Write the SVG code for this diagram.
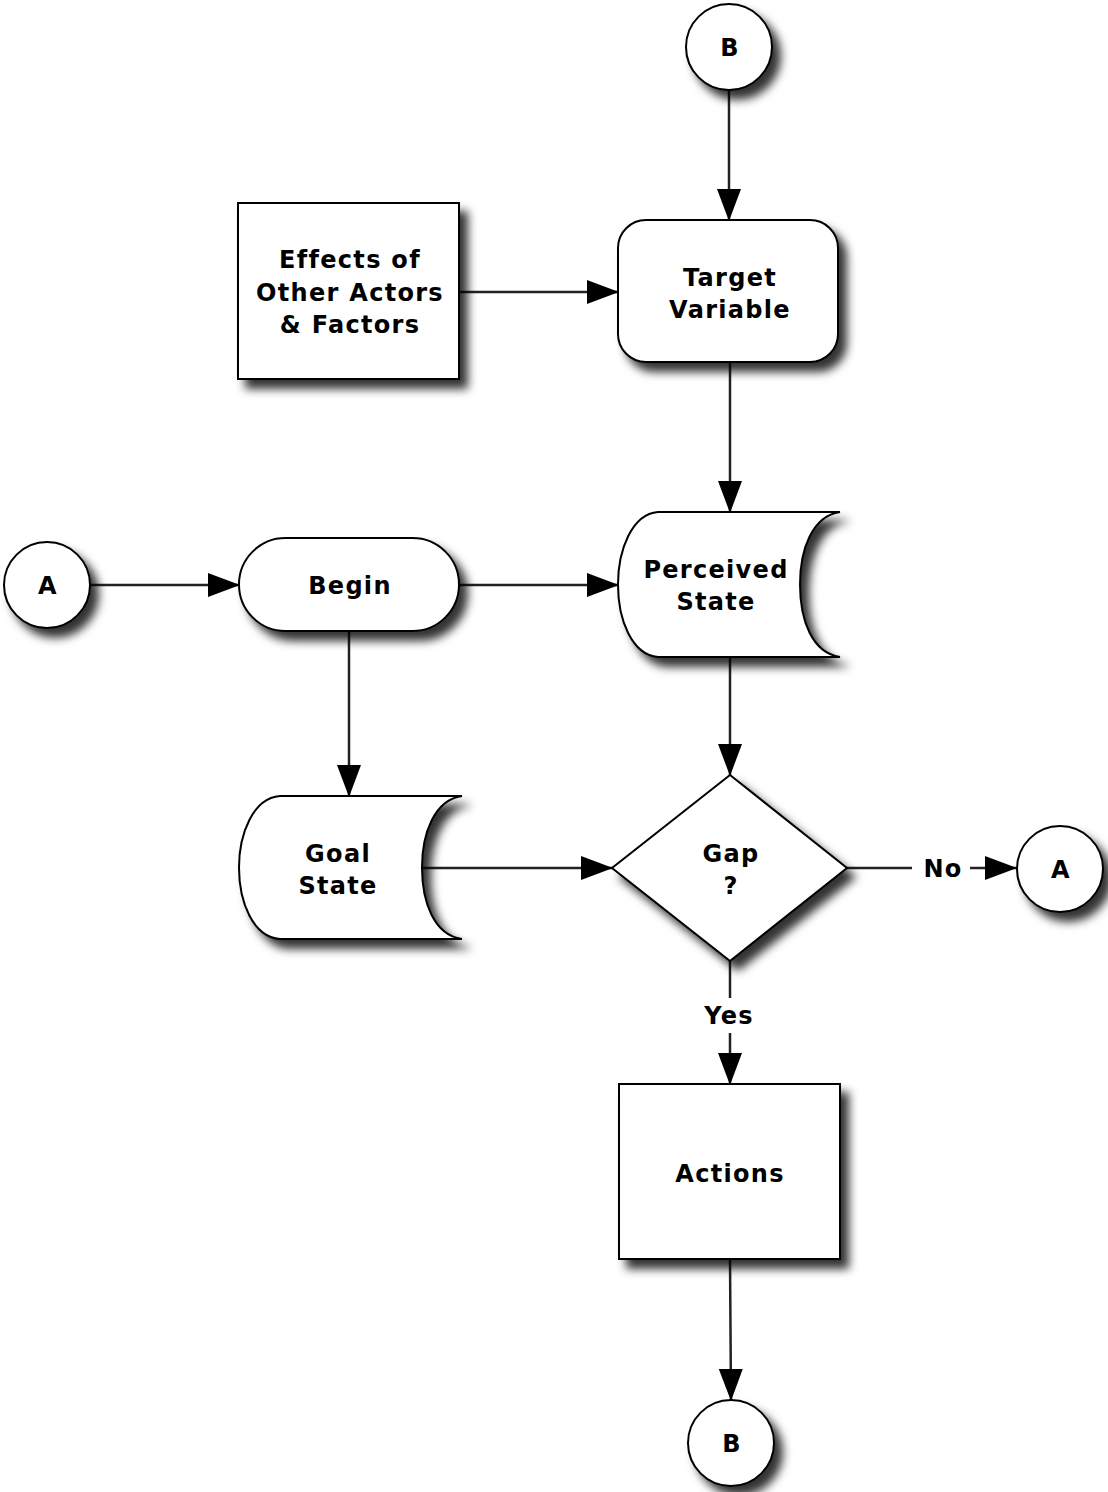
<svg xmlns="http://www.w3.org/2000/svg" width="1108" height="1492" viewBox="0 0 1108 1492">
<defs>
<filter id="sh" x="-20%" y="-20%" width="150%" height="150%">
<feDropShadow dx="8" dy="9" stdDeviation="5" flood-color="#000" flood-opacity="0.8"/>
</filter>
<marker id="arr" markerUnits="userSpaceOnUse" markerWidth="34" markerHeight="26" refX="32" refY="12" orient="auto" viewBox="0 0 34 26">
<path d="M0,0 L32,12 L0,24 Z" fill="#000"/>
</marker>
<style>
.n{fill:#fff;stroke:#000;stroke-width:2;filter:url(#sh)}
.t{font-family:"DejaVu Sans",Verdana,sans-serif;font-weight:bold;font-size:24px;letter-spacing:1.3px;text-anchor:middle;fill:#000}
.c{fill:none;stroke:#222;stroke-width:2.5;marker-end:url(#arr)}
.c2{fill:none;stroke:#222;stroke-width:2.5}
</style>
</defs>
<g id="connectors">
<path class="c" d="M729,90 L729,221"/>
<path class="c" d="M459,292 L619,292"/>
<path class="c" d="M730,362 L730,513"/>
<path class="c" d="M90,585 L240,585"/>
<path class="c" d="M459,585 L619,585"/>
<path class="c" d="M349,631 L349,797"/>
<path class="c" d="M730,657 L730,776"/>
<path class="c" d="M422,868 L613,868"/>
<path class="c2" d="M847,868 L912,868"/>
<path class="c" d="M970,868 L1017,868"/>
<path class="c2" d="M730,961 L730,998"/>
<path class="c" d="M730,1033 L730,1085"/>
<path class="c" d="M730,1259 L731,1401"/>
<text class="t" x="943" y="877">No</text>
<text class="t" x="729" y="1024">Yes</text>
</g>
<g id="B_top"><circle class="n" cx="729" cy="47" r="43"/><text class="t" x="730" y="56">B</text></g>
<g id="effects"><rect class="n" x="238" y="203" width="221" height="176"/>
<text class="t" x="350" y="268">Effects of</text><text class="t" x="350" y="301">Other Actors</text><text class="t" x="350" y="333">&amp; Factors</text></g>
<g id="target"><rect class="n" x="618" y="220" width="220" height="142" rx="28"/>
<text class="t" x="730" y="286">Target</text><text class="t" x="730" y="318">Variable</text></g>
<g id="A_left"><circle class="n" cx="47" cy="585" r="43"/><text class="t" x="48" y="594">A</text></g>
<g id="begin"><rect class="n" x="239" y="538" width="220" height="93" rx="46.5"/><text class="t" x="350" y="594">Begin</text></g>
<g id="perceived"><path class="n" d="M658,512 L840,512 C812,516 800,550 800,584.5 C800,620 812,653 840,657 L658,657 C632,655 618,620 618,584.5 C618,550 632,514 658,512 Z"/>
<text class="t" x="716" y="578">Perceived</text><text class="t" x="716" y="610">State</text></g>
<g id="goal"><path class="n" d="M280,796 L462,796 C434,800 422,834 422,867.5 C422,902 434,935 462,939 L280,939 C253,937 239,902 239,867.5 C239,834 253,798 280,796 Z"/>
<text class="t" x="338" y="862">Goal</text><text class="t" x="338" y="894">State</text></g>
<g id="gap"><path class="n" d="M730,775 L847,868 L730,961 L612,868 Z"/>
<text class="t" x="731" y="862">Gap</text><text class="t" x="731" y="894">?</text></g>
<g id="A_right"><circle class="n" cx="1060" cy="869" r="43"/><text class="t" x="1061" y="878">A</text></g>
<g id="actions"><rect class="n" x="619" y="1084" width="221" height="175"/><text class="t" x="730" y="1182">Actions</text></g>
<g id="B_bottom"><circle class="n" cx="731" cy="1443" r="43"/><text class="t" x="732" y="1452">B</text></g>
</svg>
